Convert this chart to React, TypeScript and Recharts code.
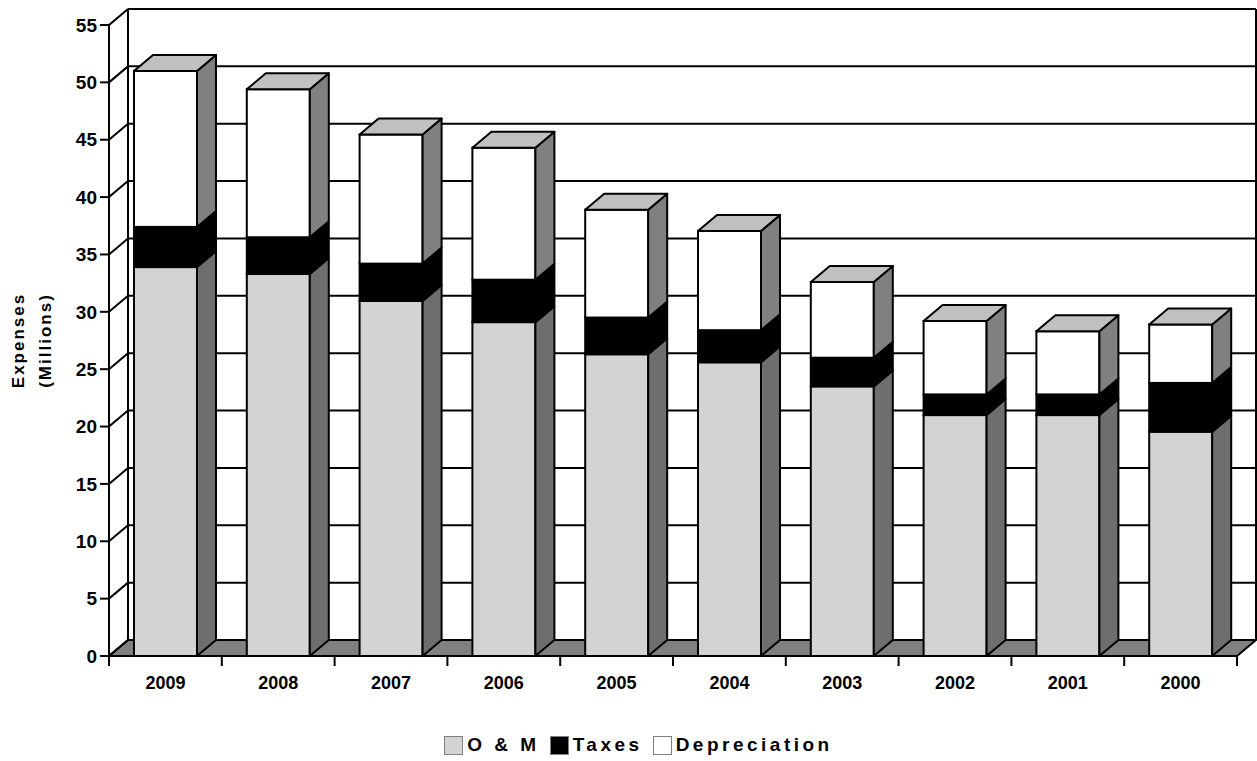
import React from "react";
import { BarChart, Bar, XAxis, YAxis, CartesianGrid, Legend } from "recharts";

const years = ["2009", "2008", "2007", "2006", "2005", "2004", "2003", "2002", "2001", "2000"];
const omValues = [33.9, 33.3, 30.95, 29.1, 26.3, 25.6, 23.5, 21.0, 21.0, 19.55];
const taxValues = [3.5, 3.2, 3.25, 3.7, 3.2, 2.8, 2.5, 1.8, 1.8, 4.25];
const depValues = [13.6, 12.9, 11.25, 11.5, 9.4, 8.65, 6.6, 6.4, 5.5, 5.1];
const yTicks = [0, 5, 10, 15, 20, 25, 30, 35, 40, 45, 50, 55];

const data = years.map((year, i) => ({
  year,
  om: omValues[i],
  taxes: taxValues[i],
  dep: depValues[i],
}));

const W = 1257;
const H = 761;
const MARGIN = { top: 25, right: 20, bottom: 0, left: 0 };
const Y_AXIS_W = 109;
const X_AXIS_H = 105;
const BAND = (W - MARGIN.left - MARGIN.right - Y_AXIS_W) / years.length;
const DX = 19;
const DY = 16;
const FONT = "'Liberation Sans', Arial, sans-serif";

const series = [
  { key: "om", label: "O & M", front: "#d3d3d3", side: "#6e6e6e" },
  { key: "taxes", label: "Taxes", front: "#000000", side: "#000000" },
  { key: "dep", label: "Depreciation", front: "#ffffff", side: "#808080", top: "#c0c0c0" },
];

function Block(props: any) {
  const { x, y, width: w, height: h, front, side, top } = props;
  if (h == null || w == null) return null;
  return (
    <g>
      <rect x={x} y={y} width={w} height={h} fill={front} stroke="#000" strokeWidth={2} />
      <polygon
        points={`${x + w},${y + h} ${x + w},${y} ${x + w + DX},${y - DY} ${x + w + DX},${y + h - DY}`}
        fill={side}
        stroke="#000"
        strokeWidth={2}
        strokeLinejoin="round"
      />
      {top && (
        <polygon
          points={`${x},${y} ${x + DX},${y - DY} ${x + w + DX},${y - DY} ${x + w},${y}`}
          fill={top}
          stroke="#000"
          strokeWidth={2}
          strokeLinejoin="round"
        />
      )}
    </g>
  );
}

// back wall lines, floor and wall borders, hung on the y-axis grid positions
function WallLine(props: any) {
  const { x1, x2, y1 } = props;
  const plotTop = props.y ?? MARGIN.top;
  const plotBottom = props.height != null ? plotTop + props.height : H - X_AXIS_H;
  const by = y1 - DY;
  const isFloor = Math.abs(y1 - plotBottom) < 0.5;
  const isTop = Math.abs(y1 - plotTop) < 0.5;
  return (
    <g>
      {isFloor && (
        <polygon
          points={`${x1},${y1} ${x1 + DX},${by} ${x2 + DX},${by} ${x2},${y1}`}
          fill="#808080"
          stroke="#000"
          strokeWidth={2}
        />
      )}
      {isTop && (
        <>
          <line x1={x1 + DX} y1={by} x2={x1 + DX} y2={plotBottom - DY} stroke="#000" strokeWidth={2} />
          <line x1={x2 + DX} y1={by} x2={x2 + DX} y2={plotBottom - DY} stroke="#000" strokeWidth={2} />
        </>
      )}
      <line x1={x1} y1={y1} x2={x1 + DX} y2={by} stroke="#000" strokeWidth={2} />
      <line x1={x1 + DX} y1={by} x2={x2 + DX} y2={by} stroke="#000" strokeWidth={2} />
    </g>
  );
}

function YearTick(props: any) {
  const { x, y, payload, index } = props;
  const half = BAND / 2;
  return (
    <g>
      <line x1={x - half} y1={y - 10} x2={x - half} y2={y} stroke="#000" strokeWidth={2} />
      {index === years.length - 1 && (
        <line x1={x + half} y1={y - 10} x2={x + half} y2={y} stroke="#000" strokeWidth={2} />
      )}
      <text x={x} y={y + 23} textAnchor="middle" fontFamily={FONT} fontWeight="bold" fontSize={18} fill="#000">
        {payload.value}
      </text>
    </g>
  );
}

function AxisTitle(props: any) {
  const vb = props.viewBox || { x: 0, y: MARGIN.top, width: Y_AXIS_W, height: H - X_AXIS_H - MARGIN.top };
  const cy = vb.y + vb.height / 2;
  const style = { fontFamily: FONT, fontWeight: "bold" as const, fontSize: 17, letterSpacing: 2 };
  return (
    <g>
      <text x={vb.x + 18} y={cy} transform={`rotate(-90 ${vb.x + 18} ${cy})`} textAnchor="middle" dominantBaseline="central" style={style}>
        Expenses
      </text>
      <text x={vb.x + 45} y={cy} transform={`rotate(-90 ${vb.x + 45} ${cy})`} textAnchor="middle" dominantBaseline="central" style={style}>
        (Millions)
      </text>
    </g>
  );
}

function LegendBox() {
  return (
    <div
      style={{
        display: "flex",
        justifyContent: "center",
        alignItems: "center",
        fontFamily: FONT,
        fontWeight: "bold",
        fontSize: 19,
        letterSpacing: 3.5,
        color: "#000",
      }}
    >
      {series.map((s) => (
        <div key={s.key} style={{ display: "flex", alignItems: "center", marginRight: 10 }}>
          <span
            style={{
              display: "inline-block",
              width: 17,
              height: 17,
              background: s.front,
              border: "1.5px solid #808080",
              marginRight: 4,
            }}
          />
          <span>{s.label}</span>
        </div>
      ))}
    </div>
  );
}

export default function App() {
  return (
    <div style={{ position: "absolute", left: 0, top: 0, width: W, height: H, background: "#fff" }}>
      <BarChart width={W} height={H} data={data} margin={MARGIN} barSize={63}>
        <CartesianGrid vertical={false} horizontal={(p: any) => <WallLine key={p.key} {...p} />} />
        <XAxis
          dataKey="year"
          height={X_AXIS_H}
          axisLine={{ stroke: "#000", strokeWidth: 2 }}
          tickLine={false}
          tickSize={10}
          tickMargin={0}
          tick={<YearTick />}
          interval={0}
        />
        <YAxis
          width={Y_AXIS_W}
          domain={[0, 55]}
          ticks={yTicks}
          interval={0}
          axisLine={{ stroke: "#000", strokeWidth: 2 }}
          tickLine={{ stroke: "#000", strokeWidth: 2 }}
          tickSize={9}
          tickMargin={3}
          tick={{ fill: "#000", fontFamily: FONT, fontWeight: "bold", fontSize: 19 }}
          label={{ content: <AxisTitle /> }}
        />
        <Legend
          layout="horizontal"
          verticalAlign="middle"
          align="center"
          content={<LegendBox />}
          wrapperStyle={{ position: "absolute", left: 0, top: 734, width: W, paddingLeft: 30, boxSizing: "border-box" }}
        />
        {series.map((s) => (
          <Bar
            key={s.key}
            dataKey={s.key}
            stackId="a"
            isAnimationActive={false}
            fill={s.front}
            shape={(p: any) => <Block {...p} front={s.front} side={s.side} top={s.top} />}
          />
        ))}
      </BarChart>
    </div>
  );
}
